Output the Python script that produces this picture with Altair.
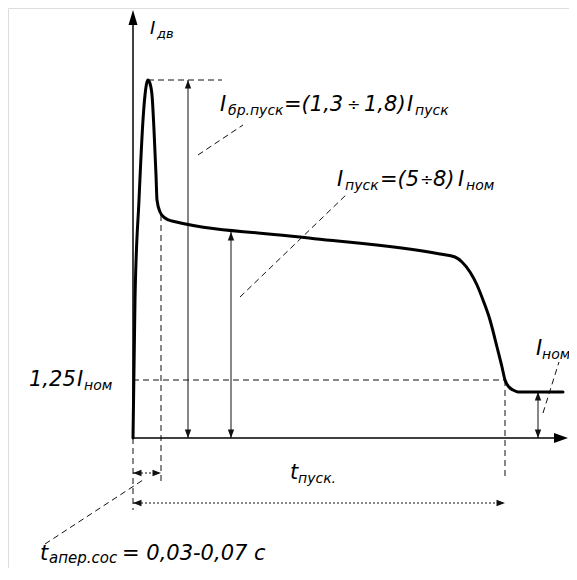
import altair as alt
import pandas as pd

# ---- diagram data (time units t, current units i; origin at axes crossing) ----
curve_t = [0, 2, 6, 10, 12, 13.5, 15, 16.5, 19, 21, 23, 24, 27, 32, 39, 167, 307, 322,
           329, 337, 344, 350, 357, 364, 369, 372, 376, 380, 385, 430]
curve_i = [0, 138, 238, 318, 343, 354, 358, 356, 343, 308, 263, 238, 226, 220, 217, 201, 184, 181,
           176, 166, 153, 138, 118, 91, 71, 58, 51, 48, 46, 46]

# axes (end of shaft)
axis_t1 = [0, 0]
axis_i1 = [0, 0]
axis_t2 = [0, 422]
axis_i2 = [414, 0]

# solid dimension arrows (vertical): t, i_low, i_high
dim_t = [55, 98, 405]
dim_lo = [0, 0, 0]
dim_hi = [358, 206, 46]

# dashed guide / leader lines
dash_t1 = [15, 28, 0, 0, 372, 65, 107, 410, -88]
dash_i1 = [358, 223, 0, 58, 58, 283, 141, 25, -106]
dash_t2 = [89, 28, 0, 372, 372, 110, 215, 426, 10]
dash_i2 = [358, -47, -72, 58, -40, 313, 245, 76, -42]

# dotted time intervals (horizontal): i, t_start, t_end
dot_i = [-35, -65]
dot_t1 = [0, 0]
dot_t2 = [28, 372]

# labels: text, t, i, font size
lab_text = ["I", "дв",
            "I", "бр.пуск", "=(1,3", "÷", "1,8)", "I", "пуск",
            "I", "пуск", "=(5", "÷", "8)", "I", "ном",
            "1,25", "I", "ном",
            "I", "ном",
            "t", "пуск.",
            "t", "апер.сос", "= 0,03-0,07 с"]
lab_t = [17, 24,
         87, 95, 151, 214, 231, 274, 282,
         204, 212, 247, 287, 300, 325, 333,
         -104, -56, -49,
         403, 409,
         157, 165,
         -93, -84, -11]
lab_i = [404, 400,
         327, 323, 327, 328, 327, 327, 323,
         252, 248, 252, 253, 252, 252, 248,
         52, 52, 48,
         83, 79,
         -41, -45,
         -122, -125, -122]
lab_size = [18, 13,
            21, 14, 21, 16, 21, 21, 14,
            21, 14, 21, 16, 21, 21, 14,
            21, 21, 14,
            21, 14,
            21, 14,
            21, 15, 21]

xs = alt.Scale(domain=[-125, 436], nice=False, zero=False)
ys = alt.Scale(domain=[-130, 430], nice=False, zero=False)


def X(f):
    return alt.X(f, type="quantitative", scale=xs, axis=None)


def Y(f):
    return alt.Y(f, type="quantitative", scale=ys, axis=None)


curve_df = pd.DataFrame({"t": curve_t, "i": curve_i})
axis_df = pd.DataFrame({"t1": axis_t1, "i1": axis_i1, "t2": axis_t2, "i2": axis_i2})
dim_df = pd.DataFrame({"t": dim_t, "lo": dim_lo, "hi": dim_hi})
dash_df = pd.DataFrame({"t1": dash_t1, "i1": dash_i1, "t2": dash_t2, "i2": dash_i2})
dot_df = pd.DataFrame({"i": dot_i, "t1": dot_t1, "t2": dot_t2})
lab_df = pd.DataFrame({"txt": lab_text, "t": lab_t, "i": lab_i, "size": lab_size})

curve = alt.Chart(curve_df).mark_line(
    interpolate="monotone", strokeWidth=3, color="black", strokeCap="round", strokeJoin="round"
).encode(x=X("t"), y=Y("i"))

axes = alt.Chart(axis_df).mark_rule(strokeWidth=1.5, color="black").encode(
    x=X("t1"), y=Y("i1"), x2="t2", y2="i2")

dims = alt.Chart(dim_df).mark_rule(strokeWidth=1, color="#111").encode(
    x=X("t"), y=Y("lo"), y2="hi")

dashes = alt.Chart(dash_df).mark_rule(strokeWidth=1, color="#111", strokeDash=[6, 4]).encode(
    x=X("t1"), y=Y("i1"), x2="t2", y2="i2")

dots = alt.Chart(dot_df).mark_rule(strokeWidth=1, color="#111", strokeDash=[2, 2]).encode(
    x=X("t1"), x2="t2", y=Y("i"))

UP_BIG = "M0,0L-0.6,2L0.6,2Z"
RIGHT_BIG = "M0,0L-2,-0.71L-2,0.71Z"
UP = "M0,0L-0.75,2L0.75,2Z"
DOWN = "M0,0L-0.75,-2L0.75,-2Z"
LEFT = "M0,0L2,-0.75L2,0.75Z"
RIGHT = "M0,0L-2,-0.75L-2,0.75Z"


def heads(df, tf, if_, shape, size, color="black"):
    return alt.Chart(df).mark_point(
        shape=shape, size=size, filled=True, opacity=1, color=color, strokeWidth=0
    ).encode(x=X(tf), y=Y(if_))


axis_tip_y = heads(pd.DataFrame({"t": [0], "i": [428]}), "t", "i", UP_BIG, 225)
axis_tip_x = heads(pd.DataFrame({"t": [435], "i": [0]}), "t", "i", RIGHT_BIG, 196)
dim_up = heads(dim_df, "t", "hi", UP, 72, "#111")
dim_down = heads(dim_df, "t", "lo", DOWN, 72, "#111")
dot_left = heads(dot_df, "t1", "i", LEFT, 72, "#111")
dot_right = heads(dot_df, "t2", "i", RIGHT, 72, "#111")

labels = alt.Chart(lab_df).mark_text(
    align="left", baseline="alphabetic", font="DejaVu Sans", fontStyle="italic", color="black"
).encode(x=X("t"), y=Y("i"), text="txt:N", size=alt.Size("size:Q", scale=None, legend=None))

chart = alt.layer(
    dashes, dots, dims, axes, curve,
    axis_tip_y, axis_tip_x, dim_up, dim_down, dot_left, dot_right, labels
).properties(
    width=561, height=560,
    autosize=alt.AutoSizeParams(type="none"),
    padding=0,
).configure_view(stroke=None).configure(background="white")

chart.save("out.html", embed_options={"renderer": "svg", "actions": False})
